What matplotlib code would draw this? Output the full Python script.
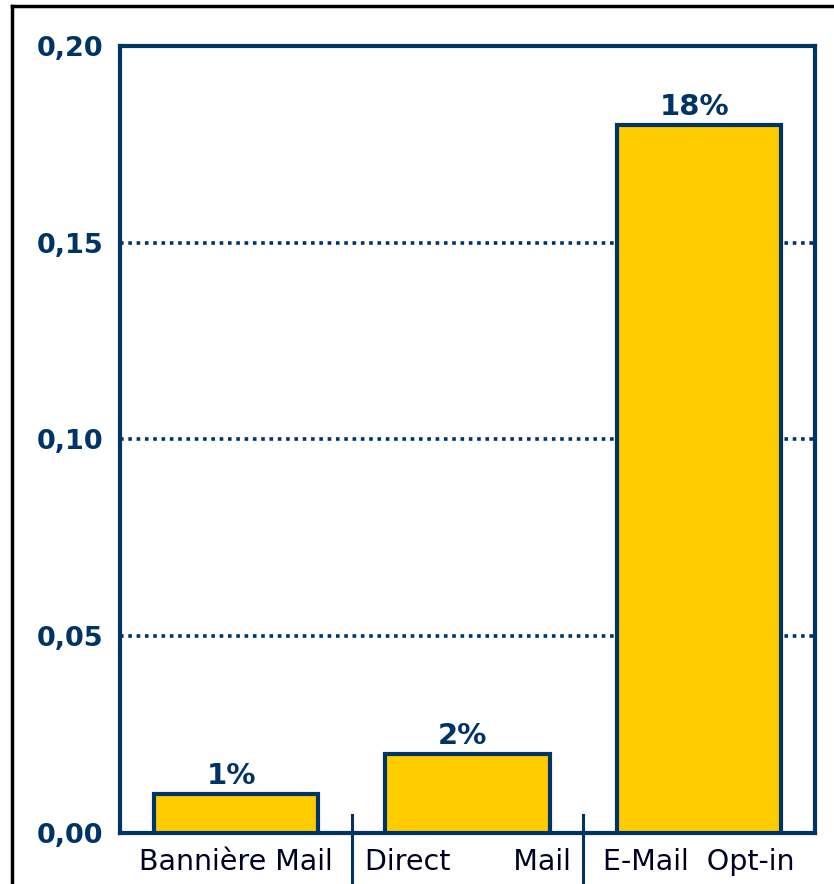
import matplotlib
matplotlib.use("Agg")
import matplotlib.pyplot as plt
from matplotlib.lines import Line2D

categories = ["Bannière Mail", "Direct       Mail", "E-Mail  Opt-in"]
values = [0.01, 0.02, 0.18]
value_labels = ["1%", "2%", "18%"]
yticks = [0.00, 0.05, 0.10, 0.15, 0.20]
ytick_labels = ["0,00", "0,05", "0,10", "0,15", "0,20"]

navy = "#003366"
yellow = "#FFCC00"

fig = plt.figure(figsize=(8.34, 8.84), dpi=100)
ax = fig.add_axes([0.1439, 0.0577, 0.8333, 0.8903])

x = range(len(categories))
ax.bar(x, values, width=0.71, color=yellow, edgecolor=navy, linewidth=3, zorder=3)

for i, v in enumerate(values):
    ax.text(i - 0.02, v + 0.001, value_labels[i], ha="center", va="bottom",
            fontsize=21, fontweight="bold", color=navy, zorder=4)

# dotted grid lines (not at top)
for t in yticks[1:-1]:
    ax.axhline(t, color=navy, linestyle=(0, (1, 1.3)), linewidth=2.6, zorder=1)

ax.set_xlim(-0.5, len(categories) - 0.5)
ax.set_ylim(0, 0.20)
ax.set_yticks(yticks)
ax.set_yticklabels(ytick_labels, fontsize=19.5, fontweight="bold", color=navy)
ax.set_xticks(list(x))
ax.set_xticklabels(categories, fontsize=20.5, color="#000022")
ax.tick_params(axis="both", length=0)
ax.tick_params(axis="y", pad=12)
ax.tick_params(axis="x", pad=11)

for s in ax.spines.values():
    s.set_color(navy)
    s.set_linewidth(3)

# separators between categories
for b in range(1, len(categories)):
    ax.axvline(b - 0.5, ymin=-0.07, ymax=0.023, color=navy, linewidth=2.2, clip_on=False)

# outer frame lines of the image
fig.add_artist(Line2D([0.0144, 1.0], [0.9935, 0.9935], color="black", linewidth=2.5))
fig.add_artist(Line2D([0.0144, 0.0144], [0.0, 0.9935], color="black", linewidth=2.5))

fig.savefig("out.png", dpi=100)
